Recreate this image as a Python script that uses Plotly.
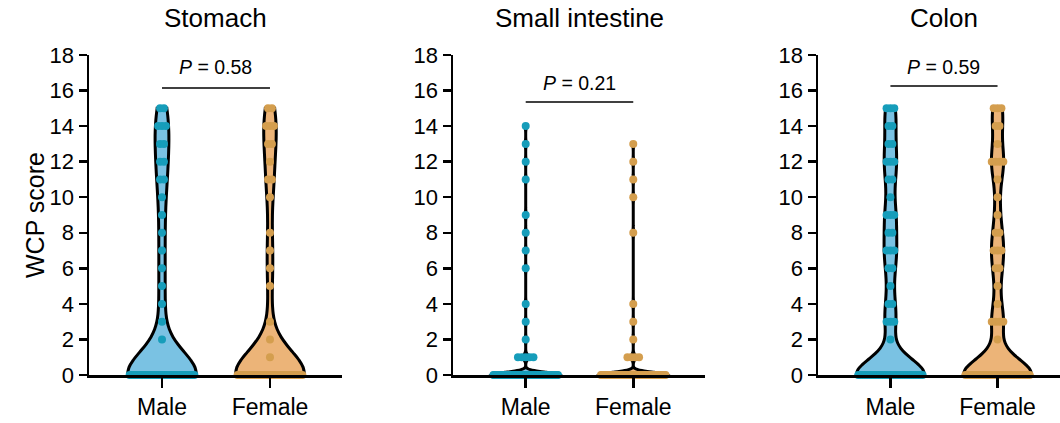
import numpy as np
import plotly.graph_objects as go

# ---------------- data (counts of animals at each WCP score) ----------------
panels = ["Stomach", "Small intestine", "Colon"]
groups = ["Male", "Female"]
scores = list(range(16))  # WCP score levels 0..15

stomach_male   = [35, 0, 1, 1, 1, 1, 1, 1, 1, 1, 1, 2, 2, 2, 3, 2]
stomach_female = [35, 1, 1, 1, 0, 1, 1, 1, 1, 0, 1, 2, 1, 2, 3, 2]
small_male     = [60, 5, 1, 1, 1, 0, 1, 1, 1, 1, 0, 1, 1, 1, 1, 0]
small_female   = [60, 4, 1, 1, 1, 0, 0, 0, 1, 0, 1, 1, 1, 1, 0, 0]
colon_male     = [30, 0, 1, 3, 2, 1, 2, 3, 2, 3, 1, 2, 3, 2, 2, 3]
colon_female   = [30, 0, 1, 4, 1, 1, 2, 3, 2, 1, 1, 1, 4, 1, 2, 3]

counts = [
    [stomach_male, stomach_female],
    [small_male, small_female],
    [colon_male, colon_female],
]
p_labels = ["0.58", "0.21", "0.59"]
y_ticks = [0, 2, 4, 6, 8, 10, 12, 14, 16, 18]

# ---------------- styling ----------------
FONT = "Arial, Liberation Sans, sans-serif"
fill_cols = ["rgb(122,194,227)", "rgb(236,180,120)"]
dot_cols = ["rgb(22,157,186)", "rgb(212,158,78)"]
bandwidths = [1.3, 0.15, 0.9]
p_text_y = [17.35, 16.45, 17.35]
p_line_y = [16.15, 15.35, 16.25]

W, H = 1060, 423
px_left = [89, 453, 818]
px_right = [342, 705, 1060]
x_ranges = [[-0.676, 1.667], [-0.676, 1.667], [-0.676, 1.583]]
y_bottom_px, y_top_px = 375, 55

fig = go.Figure()

spacing = 0.036   # horizontal spacing between stacked dots (data units)
max_row = 0.60    # max row width of stacked dots (data units)
violin_width = 0.64

for pi, name in enumerate(panels):
    xa = "x" if pi == 0 else f"x{pi+1}"
    ya = "y" if pi == 0 else f"y{pi+1}"
    for gi, g in enumerate(groups):
        cnt = counts[pi][gi]
        vals = np.repeat(scores, cnt)
        fig.add_trace(go.Violin(
            x=[gi] * len(vals), y=vals, xaxis=xa, yaxis=ya,
            points=False, spanmode="hard", bandwidth=bandwidths[pi],
            scalemode="width", width=violin_width,
            fillcolor=fill_cols[gi], opacity=1,
            line=dict(color="black", width=3),
            box_visible=False, meanline_visible=False,
            hoverinfo="skip", showlegend=False, name=g,
        ))
        # stacked dot rows (beeswarm-like)
        xs, ys = [], []
        for s, c in zip(scores, cnt):
            if c == 0:
                continue
            sp = spacing if c == 1 else min(spacing, max_row / (c - 1))
            offs = (np.arange(c) - (c - 1) / 2) * sp
            xs.extend(gi + offs)
            ys.extend([s] * c)
        fig.add_trace(go.Scatter(
            x=xs, y=ys, xaxis=xa, yaxis=ya, mode="markers",
            marker=dict(size=8, color=dot_cols[gi], line=dict(width=0)),
            cliponaxis=False, hoverinfo="skip", showlegend=False,
        ))

layout = dict(
    width=W, height=H, margin=dict(l=0, r=0, t=0, b=0, pad=0),
    autosize=False,
    paper_bgcolor="white", plot_bgcolor="white",
    font=dict(family=FONT, color="black"),
)
y_dom = [(H - y_bottom_px) / H, (H - y_top_px) / H]
annotations = []
shapes = []
for pi, name in enumerate(panels):
    sx = "" if pi == 0 else str(pi + 1)
    layout[f"xaxis{sx}"] = dict(
        domain=[px_left[pi] / W, px_right[pi] / W], range=x_ranges[pi],
        tickvals=[0, 1], ticktext=groups, showline=True, linecolor="black",
        linewidth=2.5, ticks="outside", ticklen=10, tickwidth=2.5,
        tickcolor="black", showgrid=False, zeroline=False, automargin=False,
        tickfont=dict(size=23, family=FONT, color="black"), fixedrange=True,
        anchor=f"y{sx}",
    )
    layout[f"yaxis{sx}"] = dict(
        domain=y_dom, range=[0, 18], tickvals=y_ticks, showline=True,
        linecolor="black", linewidth=2.5, ticks="outside", ticklen=8,
        tickwidth=2.5, tickcolor="black", showgrid=False, zeroline=False,
        automargin=False,
        tickfont=dict(size=22, family=FONT, color="black"), fixedrange=True,
        anchor=f"x{sx}",
    )
    cx = (px_left[pi] + 126) / W
    annotations.append(dict(
        text=name, x=cx, y=(H - 18) / H, xref="paper", yref="paper",
        showarrow=False, font=dict(size=26, family=FONT, color="black"),
        xanchor="center", yanchor="middle",
    ))
    annotations.append(dict(
        text=f"<i>P</i> = {p_labels[pi]}", x=0.5, y=p_text_y[pi],
        xref=f"x{sx}", yref=f"y{sx}", showarrow=False,
        font=dict(size=19.5, family=FONT, color="black"),
        xanchor="center", yanchor="middle",
    ))
    shapes.append(dict(
        type="line", x0=0, x1=1, y0=p_line_y[pi], y1=p_line_y[pi],
        xref=f"x{sx}", yref=f"y{sx}", line=dict(color="black", width=1.5),
    ))

annotations.append(dict(
    text="WCP score", x=35 / W, y=(H - 215) / H, xref="paper", yref="paper",
    showarrow=False, textangle=-90, font=dict(size=25, family=FONT, color="black"),
    xanchor="center", yanchor="middle",
))
layout["annotations"] = annotations
layout["shapes"] = shapes
fig.update_layout(**layout)
fig.write_html(
    "out.html",
    config={"displayModeBar": False, "staticPlot": True},
    post_script="document.body.style.margin='0';document.body.style.overflow='hidden';",
)
